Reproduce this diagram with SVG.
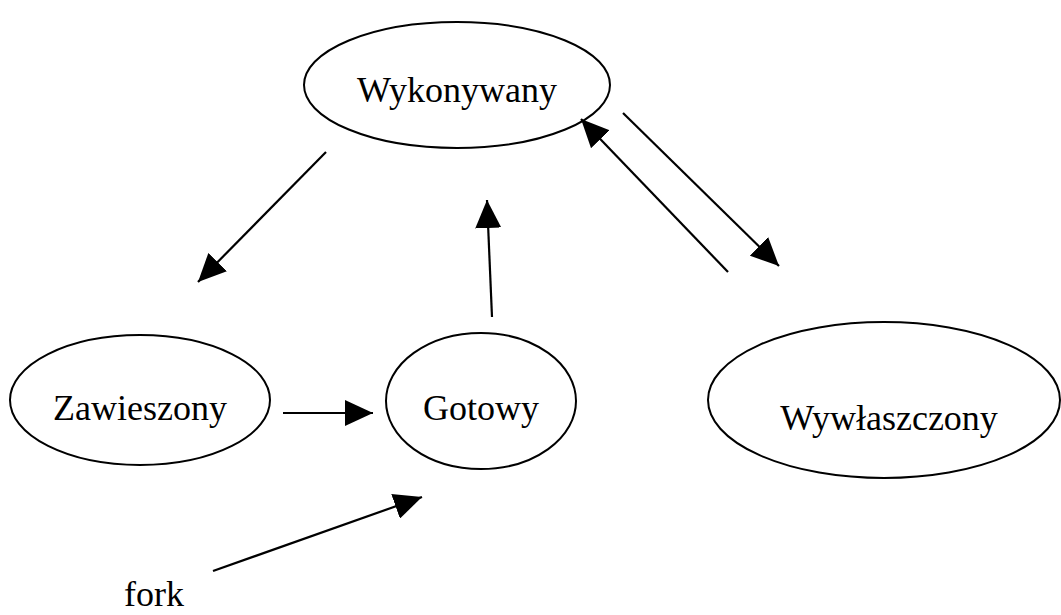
<svg xmlns="http://www.w3.org/2000/svg" width="1061" height="615" viewBox="0 0 1061 615">
<style>
.node ellipse{fill:none;stroke:#000;stroke-width:2}
.lbl{font-family:"Liberation Serif","Times New Roman",serif;font-size:36px;fill:#000;text-anchor:middle}
.edge line{stroke:#000;stroke-width:2.2}
</style>
<defs>
<marker id="ah" viewBox="0 0 28 26" refX="28" refY="13" markerWidth="28" markerHeight="26" markerUnits="userSpaceOnUse" orient="auto">
<path d="M0,0 L28,13 L0,26 z" fill="#000"/>
</marker>
</defs>
<rect width="1061" height="615" fill="#fff"/>
<g id="wykonywany" class="node">
<ellipse cx="457" cy="85" rx="153" ry="63"/>
<text class="lbl" x="457" y="102">Wykonywany</text>
</g>
<g id="zawieszony" class="node">
<ellipse cx="140" cy="400" rx="130" ry="65"/>
<text class="lbl" x="140" y="420">Zawieszony</text>
</g>
<g id="gotowy" class="node">
<ellipse cx="481" cy="401" rx="95" ry="68"/>
<text class="lbl" x="481" y="420">Gotowy</text>
</g>
<g id="wywlaszczony" class="node">
<ellipse cx="884" cy="400" rx="176" ry="78"/>
<text class="lbl" x="889" y="430">Wywłaszczony</text>
</g>
<g id="fork">
<text class="lbl" x="154" y="606">fork</text>
</g>
<g id="connectors" class="edge">
<line x1="326" y1="152" x2="198" y2="282" marker-end="url(#ah)"/>
<line x1="492" y1="317" x2="487" y2="200" marker-end="url(#ah)"/>
<line x1="728" y1="272" x2="581" y2="119" marker-end="url(#ah)"/>
<line x1="623" y1="113" x2="779" y2="266" marker-end="url(#ah)"/>
<line x1="283" y1="413" x2="373" y2="413" marker-end="url(#ah)"/>
<line x1="213" y1="571" x2="422" y2="497" marker-end="url(#ah)"/>
</g>
</svg>
